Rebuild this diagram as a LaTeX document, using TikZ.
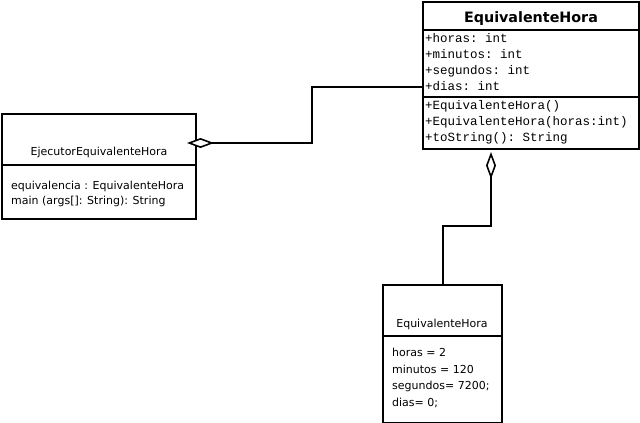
\documentclass[tikz,border=0pt]{standalone}
\usepackage{fontspec}
\setmainfont{DejaVu Sans}
\setmonofont{Liberation Mono}
\usetikzlibrary{arrows.meta}
\tikzset{
  classbox/.style={draw, line width=2pt, anchor=north west, inner sep=0pt},
  sep/.style={line width=2pt},
  mono/.style={anchor=base west, inner sep=0pt, font=\fontsize{12.5}{14}\ttfamily},
  sans/.style={anchor=base west, inner sep=0pt, font=\fontsize{11}{13}\selectfont},
  conn/.style={line width=2pt},
  agg/.style={{Diamond[open, fill=white, length=27pt, width=10pt, line width=1.6pt]}-},
}
\begin{document}
\begin{tikzpicture}[x=1pt,y=-1pt]
\useasboundingbox (0,0) rectangle (640,423);
% top class
\node[classbox, minimum width=216pt, minimum height=147pt] (ch) at (422,1) {};
\draw[sep] (422,30) -- (638,30);
\draw[sep] (422,97) -- (638,97);
\node[anchor=base, inner sep=0pt, font=\fontsize{14.3}{17}\bfseries] (cht) at (531,22) {EquivalenteHora};
\node[mono] (a1) at (425,42) {+horas: int};
\node[mono] (a2) at (425,58) {+minutos: int};
\node[mono] (a3) at (425,74) {+segundos: int};
\node[mono] (a4) at (425,90) {+dias: int};
\node[mono] (o1) at (425,109) {+EquivalenteHora()};
\node[mono] (o2) at (425,125) {+EquivalenteHora(horas:int)};
\node[mono] (o3) at (425,141) {+toString(): String};
% left class
\node[classbox, minimum width=194pt, minimum height=105pt] (ej) at (1,113) {};
\draw[sep] (1,165) -- (195,165);
\node[anchor=base, inner sep=0pt, font=\fontsize{11}{13}\selectfont] (ejt) at (99,155) {EjecutorEquivalenteHora};
\node[sans] (e1) at (11,189) {equivalencia : EquivalenteHora};
\node[sans] (e2) at (11,204) {main (args[]: String): String};
% bottom object
\node[classbox, minimum width=119pt, minimum height=138pt] (ob) at (382,284) {};
\draw[sep] (382,336) -- (501,336);
\node[anchor=base, inner sep=0pt, font=\fontsize{11}{13}\selectfont] (obt) at (442,327) {EquivalenteHora};
\node[sans] (b1) at (392,356) {horas = 2};
\node[sans] (b2) at (392,373) {minutos = 120};
\node[sans] (b3) at (392,389) {segundos= 7200;};
\node[sans] (b4) at (392,406) {dias= 0;};
% connectors
\coordinate (d1) at (187,143);
\coordinate (d2) at (491,152);
\draw[conn, agg] (d1) -- (312,143) |- (ch.west |- 0,87);
\draw[conn, agg] (d2) -- (491,226) -| (ob.north);
\end{tikzpicture}
\end{document}
